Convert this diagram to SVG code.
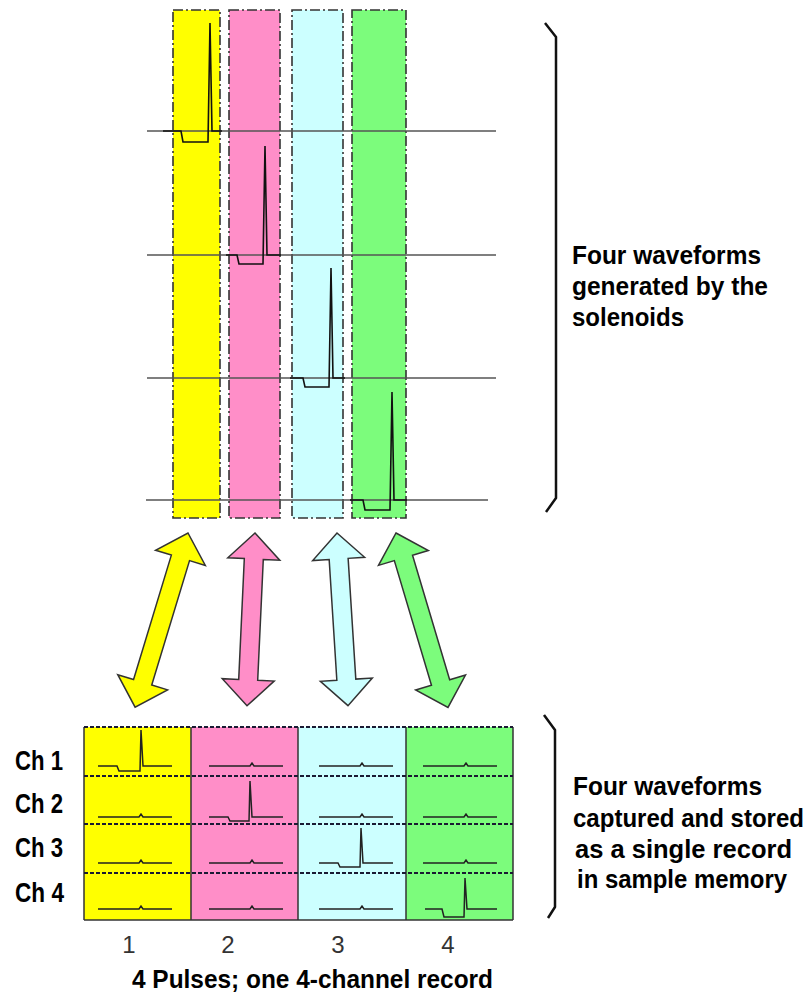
<svg xmlns="http://www.w3.org/2000/svg" width="812" height="996" viewBox="0 0 812 996">
<style>
.strip{stroke:#333;stroke-width:1.6;stroke-dasharray:10 3 2 3}
.base{fill:none;stroke:#555;stroke-width:1.6}
.pulse{fill:none;stroke:#111;stroke-width:1.6;stroke-linejoin:miter}
.arrow{stroke:#333;stroke-width:1.5;stroke-linejoin:miter}
.mini{fill:none;stroke:#222;stroke-width:1.5}
.rowdiv{stroke:#1a1a33;stroke-width:2;stroke-dasharray:4 2}
.coldiv{stroke:#333;stroke-width:1.5}
.brace{fill:none;stroke:#111;stroke-width:2.5;stroke-linejoin:round}
.lbl{font-family:"Liberation Sans Narrow","Liberation Sans",Arial,sans-serif;font-weight:bold;fill:#000}
.num{font-family:"Liberation Sans",Arial,sans-serif;font-size:24px;fill:#333;text-anchor:middle}
.y{fill:#FFFF00}.p{fill:#FF8EC8}.c{fill:#CCFFFF}.g{fill:#7CFC7C}
</style>
<defs>
<polygon id="arr182" points="0,0 26,26 9.5,26 9.5,156 26,156 0,182 -26,156 -9.5,156 -9.5,26 -26,26"/>
<polygon id="arr173" points="0,0 26,26 9.5,26 9.5,147 26,147 0,173 -26,147 -9.5,147 -9.5,26 -26,26"/>
</defs>

<g id="strips">
<rect id="strip1" class="strip y" x="173" y="10" width="47" height="508"/>
<rect id="strip2" class="strip p" x="229" y="10" width="51" height="508"/>
<rect id="strip3" class="strip c" x="292" y="10" width="51" height="508"/>
<rect id="strip4" class="strip g" x="352" y="10" width="54" height="508"/>
</g>

<g id="waveforms">
<g id="wave1"><path class="base" d="M147,131 H496"/><path class="pulse" d="M163,131 H181 L183,142 H208 L210,23 L212,131 H222"/></g>
<g id="wave2"><path class="base" d="M147,255 H496"/><path class="pulse" d="M226,255 H237 L239,264 H263 L265,146 L267,255 H281"/></g>
<g id="wave3"><path class="base" d="M147,378 H496"/><path class="pulse" d="M290,378 H303 L305,387 H329 L331,268 L333,378 H345"/></g>
<g id="wave4"><path class="base" d="M146,500 H488"/><path class="pulse" d="M350,500 H363 L365,510 H390 L392,392 L394,500 H407"/></g>
</g>

<g id="connectors">
<use href="#arr182" class="arrow y" transform="translate(188,533) rotate(16.9)"/>
<use href="#arr173" class="arrow p" transform="translate(255,533) rotate(2.65)"/>
<use href="#arr173" class="arrow c" transform="translate(337,533) rotate(-3.64)"/>
<use href="#arr182" class="arrow g" transform="translate(396,533) rotate(-16.6)"/>
</g>

<g id="record">
<rect class="y" x="84" y="727" width="107" height="193"/>
<rect class="p" x="191" y="727" width="107" height="193"/>
<rect class="c" x="298" y="727" width="108" height="193"/>
<rect class="g" x="406" y="727" width="107" height="193"/>
<line class="coldiv" x1="84" y1="727" x2="84" y2="920"/>
<line class="coldiv" x1="191" y1="727" x2="191" y2="920"/>
<line class="coldiv" x1="298" y1="727" x2="298" y2="920"/>
<line class="coldiv" x1="406" y1="727" x2="406" y2="920"/>
<line class="coldiv" x1="513" y1="727" x2="513" y2="920"/>
<line class="coldiv" x1="84" y1="920" x2="513" y2="920"/>
<line class="rowdiv" x1="84" y1="727" x2="513" y2="727"/>
<line class="rowdiv" x1="84" y1="776" x2="513" y2="776"/>
<line class="rowdiv" x1="84" y1="824" x2="513" y2="824"/>
<line class="rowdiv" x1="84" y1="873" x2="513" y2="873"/>

<g id="mini-waves">
<path class="mini" d="M98,766 H117 L119,771 H140 L141,730 L143,766 H172"/>
<path class="mini" d="M98,817 H139 L141,814 L143,817 H172"/>
<path class="mini" d="M98,863 H139 L141,860 L143,863 H172"/>
<path class="mini" d="M98,909 H139 L141,906 L143,909 H172"/>

<path class="mini" d="M209,766 H250 L252,763 L254,766 H283"/>
<path class="mini" d="M209,817 H228 L230,821 H249 L250,781 L252,817 H283"/>
<path class="mini" d="M209,863 H250 L252,860 L254,863 H283"/>
<path class="mini" d="M209,909 H250 L252,906 L254,909 H283"/>

<path class="mini" d="M319,766 H360 L362,763 L364,766 H393"/>
<path class="mini" d="M319,817 H360 L362,814 L364,817 H393"/>
<path class="mini" d="M319,863 H338 L340,867 H360 L361,828 L363,863 H393"/>
<path class="mini" d="M319,909 H360 L362,906 L364,909 H393"/>

<path class="mini" d="M423,766 H464 L466,763 L468,766 H497"/>
<path class="mini" d="M423,817 H464 L466,814 L468,817 H497"/>
<path class="mini" d="M423,863 H464 L466,860 L468,863 H497"/>
<path class="mini" d="M425,909 H442 L444,917 H464 L465,878 L467,909 H497"/>
</g>
</g>

<g id="channel-labels">
<text class="lbl" x="15" y="770" font-size="27" textLength="48" lengthAdjust="spacingAndGlyphs">Ch 1</text>
<text class="lbl" x="15" y="813" font-size="27" textLength="48" lengthAdjust="spacingAndGlyphs">Ch 2</text>
<text class="lbl" x="15" y="857" font-size="27" textLength="48" lengthAdjust="spacingAndGlyphs">Ch 3</text>
<text class="lbl" x="15" y="902" font-size="27" textLength="49" lengthAdjust="spacingAndGlyphs">Ch 4</text>
</g>

<g id="column-numbers">
<text class="num" x="129" y="953">1</text>
<text class="num" x="228" y="953">2</text>
<text class="num" x="338" y="953">3</text>
<text class="num" x="448" y="953">4</text>
</g>

<g id="braces">
<path class="brace" d="M545,23 L556,37 V498 L546,512"/>
<path class="brace" d="M544,715 L555,730 V907 L548,918"/>
</g>

<g id="captions">
<text class="lbl" font-size="25" x="572" y="264" textLength="189" lengthAdjust="spacingAndGlyphs">Four waveforms</text>
<text class="lbl" font-size="25" x="572" y="295" textLength="196" lengthAdjust="spacingAndGlyphs">generated by the</text>
<text class="lbl" font-size="25" x="572" y="326" textLength="112" lengthAdjust="spacingAndGlyphs">solenoids</text>

<text class="lbl" font-size="25" x="573" y="795" textLength="189" lengthAdjust="spacingAndGlyphs">Four waveforms</text>
<text class="lbl" font-size="25" x="573" y="827" textLength="231" lengthAdjust="spacingAndGlyphs">captured and stored</text>
<text class="lbl" font-size="25" x="575" y="858" textLength="217" lengthAdjust="spacingAndGlyphs">as a single record</text>
<text class="lbl" font-size="25" x="577" y="888" textLength="210" lengthAdjust="spacingAndGlyphs">in sample memory</text>

<text class="lbl" font-size="26" x="132" y="988" textLength="361" lengthAdjust="spacingAndGlyphs">4 Pulses; one 4-channel record</text>
</g>
</svg>
